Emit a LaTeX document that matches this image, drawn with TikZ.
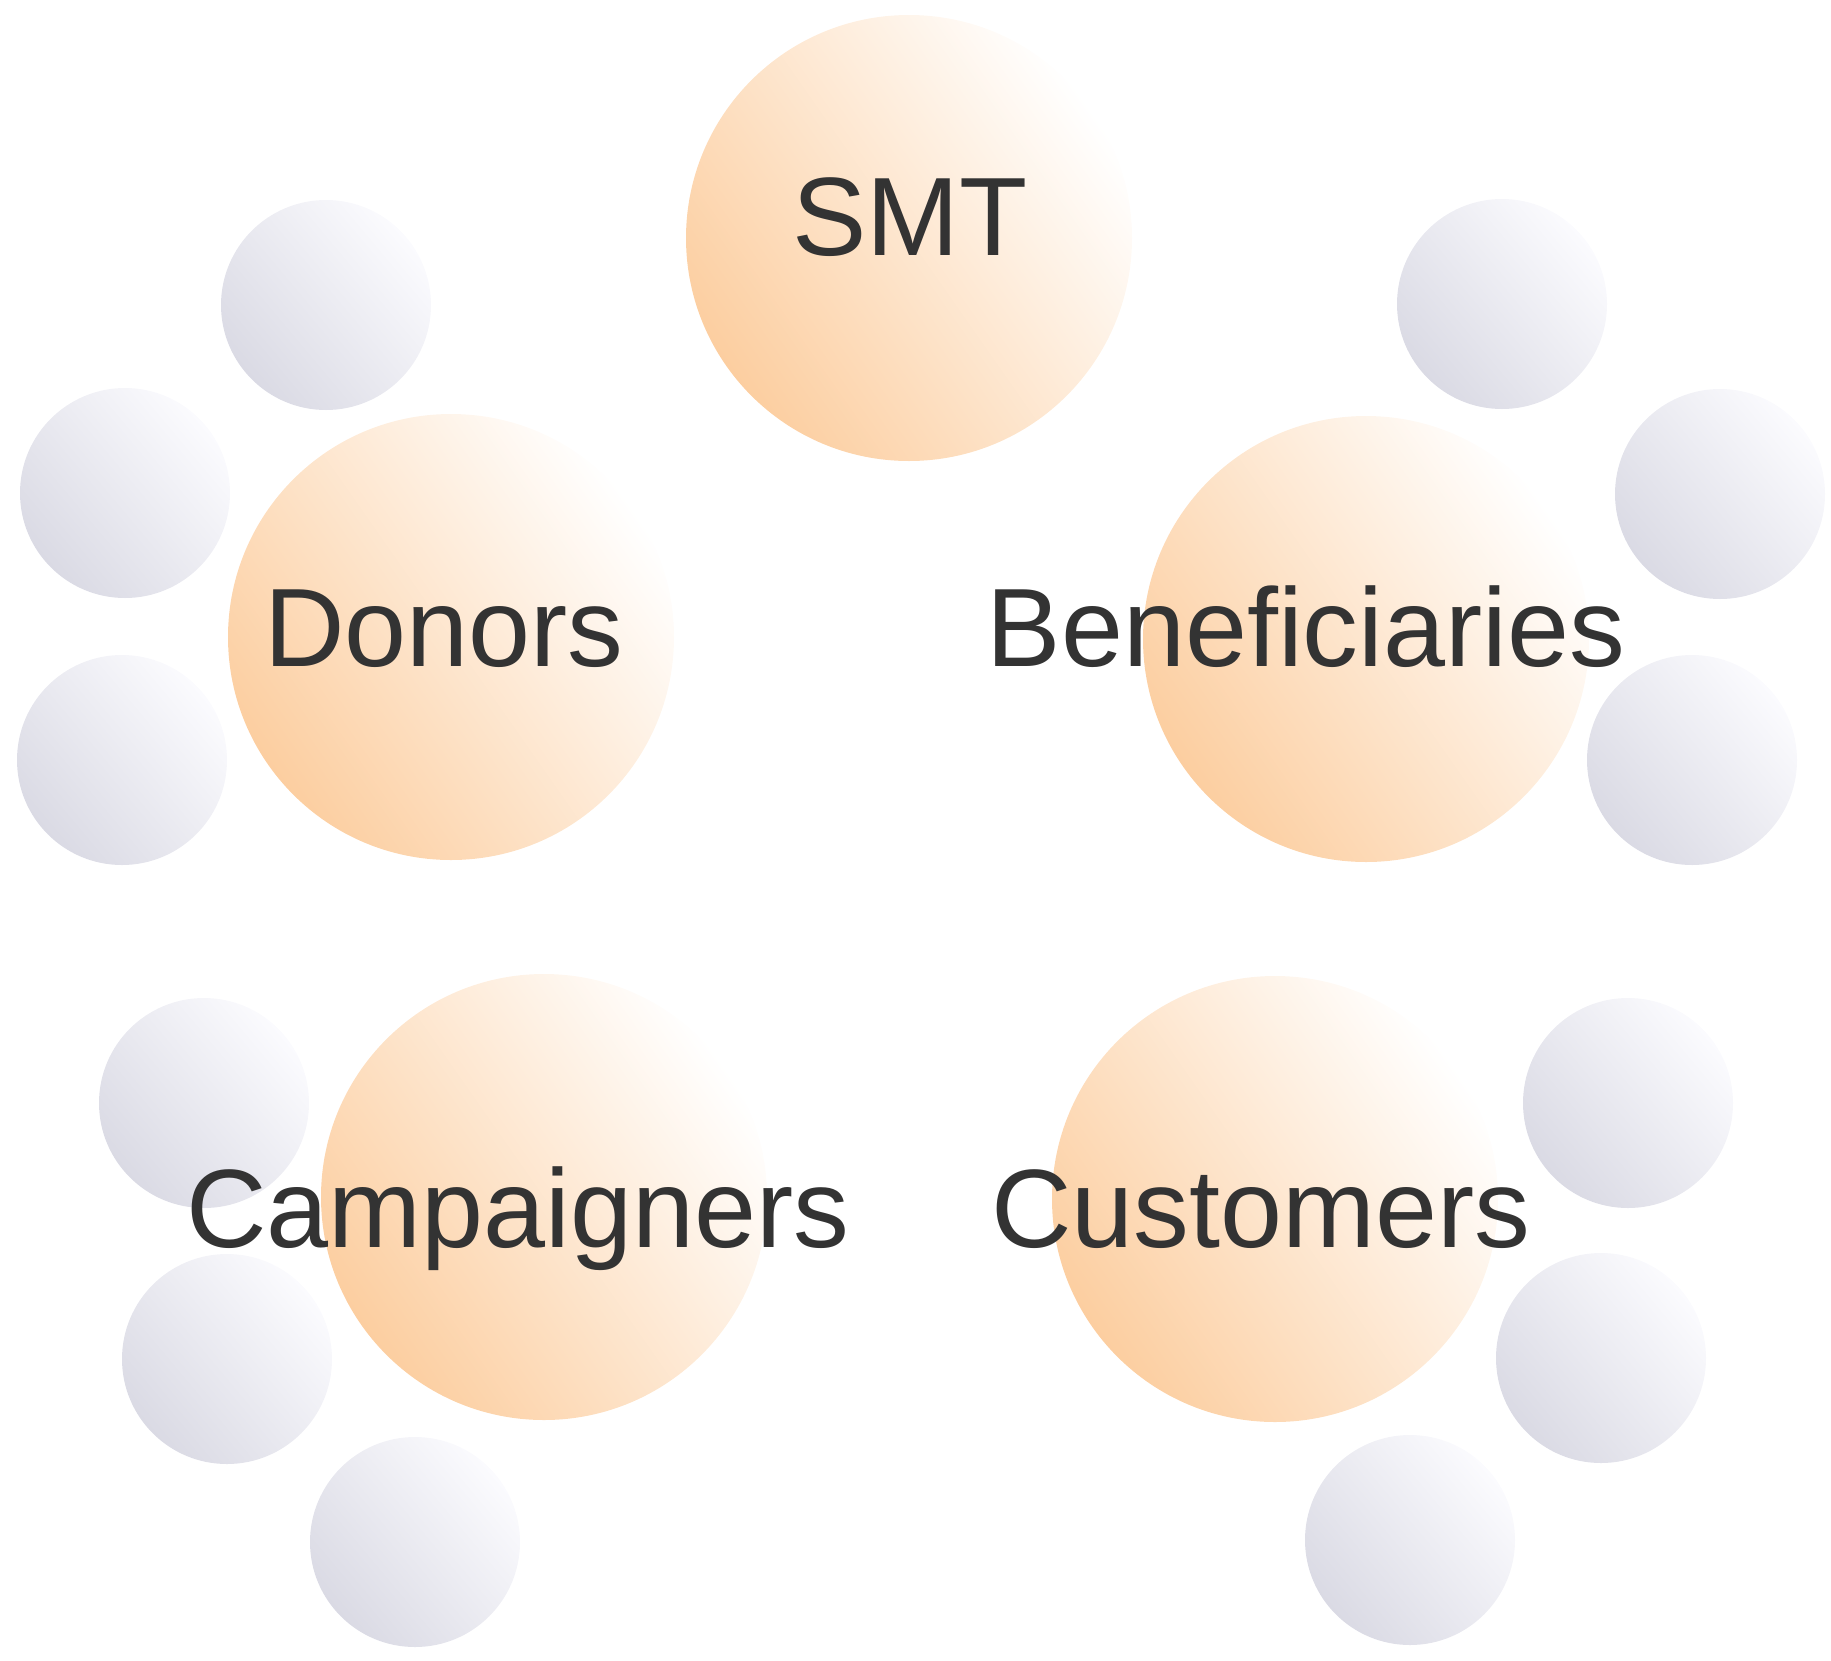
\documentclass[tikz,border=0pt]{standalone}
\usepackage{fontspec}
\setmainfont{Liberation Sans}
\definecolor{orgdeep}{RGB}{252,206,160}
\definecolor{orgmid}{RGB}{254,233,213}
\definecolor{grydeep}{RGB}{218,218,228}
\definecolor{grymid}{RGB}{236,236,244}
\definecolor{grylite}{RGB}{251,251,254}
\definecolor{txt}{RGB}{51,51,51}
\tikzset{
  bigball/.style={circle, draw=none, inner sep=0pt, minimum size=446pt,
    bottom color=orgdeep, middle color=orgmid, top color=white, shading angle=-55},
  smallball/.style={circle, draw=none, inner sep=0pt, minimum size=210pt,
    bottom color=grydeep, middle color=grymid, top color=grylite, shading angle=-50},
  lbl/.style={anchor=base, inner sep=0pt, text=txt, font=\fontsize{111.5}{118}\selectfont}
}
\begin{document}
\begin{tikzpicture}[x=1pt,y=-1pt]
\useasboundingbox (0,0) rectangle (1831,1660);
% satellite circles
\node[smallball] (d1) at (326,305) {};
\node[smallball] (d2) at (125,493) {};
\node[smallball] (d3) at (122,760) {};
\node[smallball] (b1) at (1502,304) {};
\node[smallball] (b2) at (1720,494) {};
\node[smallball] (b3) at (1692,760) {};
\node[smallball] (p1) at (204,1103) {};
\node[smallball] (p2) at (227,1359) {};
\node[smallball] (p3) at (415,1542) {};
\node[smallball] (c1) at (1628,1103) {};
\node[smallball] (c2) at (1601,1358) {};
\node[smallball] (c3) at (1410,1540) {};
% main circles
\node[bigball] (smt) at (909,238) {};
\node[bigball] (don) at (451,637) {};
\node[bigball] (ben) at (1366,639) {};
\node[bigball] (cam) at (544,1197) {};
\node[bigball] (cus) at (1275,1199) {};
% labels
\node[lbl] (tsmt) at (910,255) {SMT};
\node[lbl] (tdon) at (444,666) {Donors};
\node[lbl] (tben) at (1306,666) {Beneficiaries};
\node[lbl] (tcam) at (518,1247) {Campaigners};
\node[lbl] (tcus) at (1261,1247) {Customers};
\end{tikzpicture}
\end{document}
